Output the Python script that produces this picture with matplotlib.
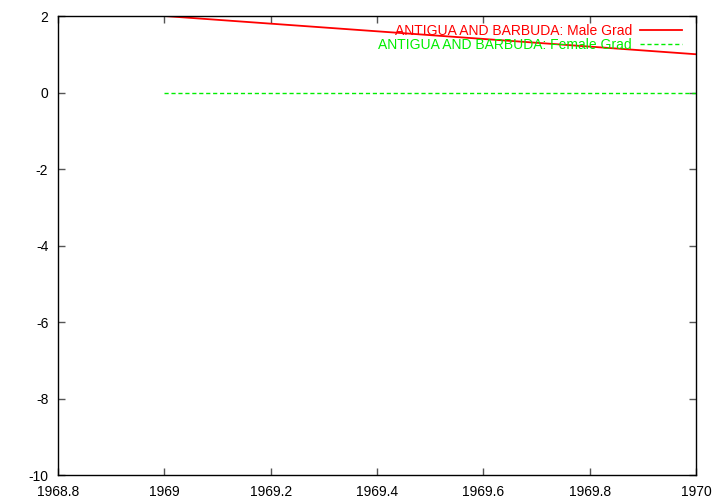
import matplotlib
matplotlib.use("Agg")
import matplotlib.pyplot as plt

years = [1969, 1970]
male_grad = [2, 1]
female_grad = [0, 0]

x_ticks = [1968.8, 1969, 1969.2, 1969.4, 1969.6, 1969.8, 1970]
x_labels = ["1968.8", "1969", "1969.2", "1969.4", "1969.6", "1969.8", "1970"]
y_ticks = [-10, -8, -6, -4, -2, 0, 2]

plt.rcParams["font.family"] = ["Liberation Sans", "DejaVu Sans"]
plt.rcParams["axes.unicode_minus"] = False

fig = plt.figure(figsize=(7.2, 5.04), dpi=100)
ax = fig.add_axes([58 / 720, 29 / 504, 638 / 720, 459 / 504])

ax.plot(years, male_grad, color="#ff0000", linewidth=1.3,
        label="ANTIGUA AND BARBUDA: Male Grad")
ax.plot(years, female_grad, color="#00ee00", linewidth=1.0, linestyle=(0, (3, 2)),
        label="ANTIGUA AND BARBUDA: Female Grad")

ax.set_xlim(1968.8, 1970)
ax.set_ylim(-10, 2)
ax.set_xticks(x_ticks)
ax.set_xticklabels(x_labels)
ax.set_yticks(y_ticks)
ax.tick_params(direction="in", length=5, width=1, color="#555555",
               top=True, right=True, labelsize=10)
ax.tick_params(axis="x", pad=7)
ax.tick_params(axis="y", pad=7)
for s in ax.spines.values():
    s.set_color("black")
    s.set_linewidth(1)

leg = ax.legend(loc="upper right", frameon=False, markerfirst=False,
                labelcolor="linecolor", fontsize=10, handlelength=3.0,
                handletextpad=0.6, labelspacing=0.0, borderaxespad=0.15,
                bbox_to_anchor=(0.99, 1.0))
for t in leg.get_texts():
    t.set_ha("right")

fig.savefig("out.png", dpi=100)
